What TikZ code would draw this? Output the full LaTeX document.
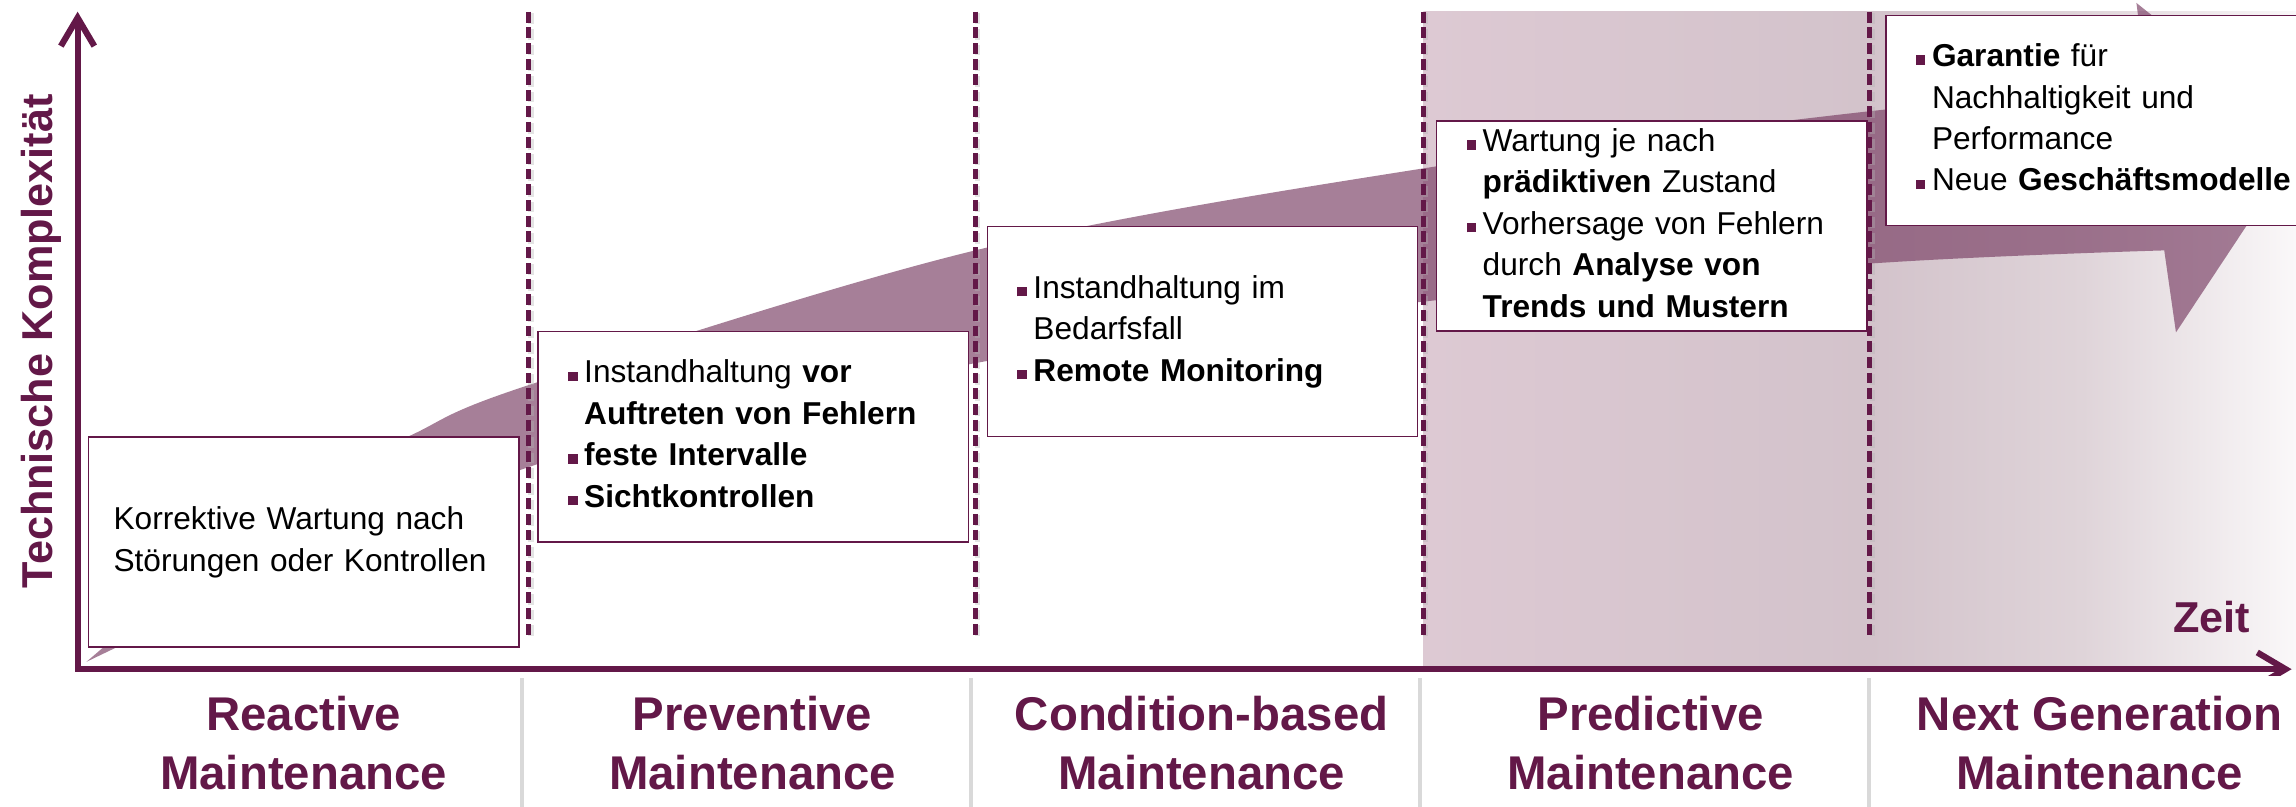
\documentclass[tikz,border=0pt]{standalone}
\usepackage{fontspec}
\setmainfont{Liberation Sans}
\usepackage{tikz}
\usetikzlibrary{arrows.meta,positioning,shadows}

\definecolor{wine}{RGB}{99,24,72}
\definecolor{bandcol}{RGB}{120,61,99}
\definecolor{rosa}{RGB}{221,201,211}
\definecolor{rosagrey}{RGB}{211,195,203}
\definecolor{rosafade}{RGB}{223,212,217}
\definecolor{offwhite}{RGB}{250,248,249}

% square bullet and hanging indent for the info boxes
\newcommand{\itm}{\makebox[6.3pt][l]{\textcolor{wine}{\rule[0.7pt]{3.7pt}{3.7pt}}}}
\newcommand{\ind}{\hspace*{6.3pt}}

\begin{document}
\begin{tikzpicture}[
    x=0.02cm, y=-0.02cm,
    >={Straight Barb[length=11pt,width=13pt]},
    info/.style={
		rectangle,
		draw=wine,
		line width=0.6pt,
		fill=white,
		anchor=north west,
		inner xsep=11.6pt,
		inner ysep=0pt,
		text width=144pt,
		minimum height=2.87cm,
		align=left,
		font=\fontsize{12.3}{16.1}\selectfont
	},
    stage/.style={
		rectangle,
		fill=white,
		anchor=north west,
		minimum width=5.92cm,
		minimum height=1.84cm,
		align=center,
		text=wine,
		font=\fontsize{18.4}{22.7}\selectfont\bfseries,
		drop shadow={shadow xshift=1.6pt, shadow yshift=-1pt, opacity=.3}
	},
    axislabel/.style={
		text=wine,
		inner sep=0pt,
		font=\fontsize{16.8}{20}\selectfont\bfseries
	},
    separator/.style={
		wine,
		line width=2pt,
		dash pattern=on 4.2pt off 1.9pt
	}
  ]
  \useasboundingbox (0,0) rectangle (1568,551);

  % shaded background of the last two phases
  \shade[left color=rosa, right color=rosagrey] (972,8) rectangle (1277,457);
  \shade[left color=rosagrey, right color=offwhite, middle color=rosafade] (1277,8) rectangle (1568,457);

  % the rising arrow band
  \fill[bandcol, opacity=.66]
    plot[smooth, tension=.55] coordinates {(59,452) (361,319) (666,248) (972,206) (1277,180) (1478,171)}
    -- (1486,227) -- (1574,94) -- (1459,2) -- (1466,57)
    -- plot[smooth, tension=.55] coordinates {(1466,57) (1250,79) (972,115) (666,171) (361,263) (279,298) (200,336) (59,452)}
    -- cycle;

  % phase separators
  \foreach \xs in {361,666,972,1277}{
    \draw[separator, draw=gray!60, opacity=.35] (\xs+1.6,9) -- (\xs+1.6,436);
    \draw[separator] (\xs,8) -- (\xs,435);
  }

  % info boxes, one step higher per phase
  \node [info, inner xsep=9.7pt, text width=147.9pt] (info1) at (60,298)
 {%
 \begin{tabular}{@{}l@{}}
  Korrektive Wartung nach\\
  Störungen oder Kontrollen
 \end{tabular}
 };

  \node [info] (info2) at ([xshift=0.24cm, yshift=1.44cm]info1.north east)
 {%
 \begin{tabular}{@{}l@{}}
  \itm Instandhaltung \textbf{vor}\\
  \ind\textbf{Auftreten von Fehlern}\\
  \itm\textbf{feste Intervalle}\\
  \itm\textbf{Sichtkontrollen}
 \end{tabular}
 };

  \node [info] (info3) at ([xshift=0.24cm, yshift=1.44cm]info2.north east)
 {%
 \begin{tabular}{@{}l@{}}
  \itm Instandhaltung im\\
  \ind Bedarfsfall\\
  \itm\textbf{Remote Monitoring}
 \end{tabular}
 };

  \node [info] (info4) at ([xshift=0.24cm, yshift=1.44cm]info3.north east)
 {%
 \begin{tabular}{@{}l@{}}
  \itm Wartung je nach\\
  \ind\textbf{prädiktiven} Zustand\\
  \itm Vorhersage von Fehlern\\
  \ind durch \textbf{Analyse von}\\
  \ind\textbf{Trends und Mustern}
 \end{tabular}
 };

  \node [info, text width=200pt] (info5) at ([xshift=0.24cm, yshift=1.44cm]info4.north east)
 {%
 \begin{tabular}{@{}l@{}}
  \itm\textbf{Garantie} für\\
  \ind Nachhaltigkeit und\\
  \ind Performance\\
  \itm Neue \textbf{Geschäftsmodelle}
 \end{tabular}
 };

  % axes
  \coordinate (origin) at (53,457);
  \coordinate (ytip) at (53,8);
  \coordinate (xtip) at (1565,457);
  \draw [wine, line width=2.4pt, <->] (ytip) -- (origin) -- (xtip);

  \node [axislabel, rotate=90, anchor=base] (komplex) at (36,233) {Technische Komplexität};
  \node [axislabel, anchor=base east] (zeit) at (1537,432) {Zeit};

  % phase names under the time axis
  \node [stage] (stage1) at (59,461) {Reactive\\Maintenance};
  \node [stage, right=0.2cm of stage1] (stage2) {Preventive\\Maintenance};
  \node [stage, right=0.2cm of stage2] (stage3) {Condition-based\\Maintenance};
  \node [stage, right=0.2cm of stage3] (stage4) {Predictive\\Maintenance};
  \node [stage, right=0.2cm of stage4] (stage5) {Next Generation\\Maintenance};

\end{tikzpicture}
\end{document}
